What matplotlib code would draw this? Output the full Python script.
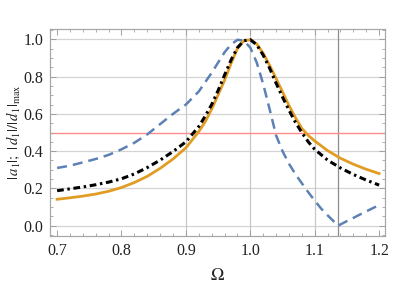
import matplotlib
matplotlib.use("Agg")
import matplotlib.pyplot as plt
from matplotlib.ticker import MultipleLocator

plt.rcParams['font.family'] = ['Liberation Serif', 'DejaVu Serif']
plt.rcParams['mathtext.fontset'] = 'stix'

# values
omega_a = [0.70, 0.72, 0.74, 0.76, 0.78, 0.80, 0.82, 0.84, 0.86, 0.88, 0.90,
           0.92, 0.93, 0.94, 0.95, 0.96, 0.97, 0.98, 0.99, 1.00, 1.01, 1.02,
           1.03, 1.04, 1.05, 1.06, 1.07, 1.08, 1.09, 1.10, 1.12, 1.14, 1.16,
           1.18, 1.20]
a1 = [0.142, 0.150, 0.159, 0.170, 0.185, 0.205, 0.232, 0.265, 0.308, 0.358,
      0.418, 0.505, 0.558, 0.625, 0.702, 0.780, 0.870, 0.950, 0.992, 0.998,
      0.975, 0.925, 0.860, 0.790, 0.718, 0.645, 0.580, 0.522, 0.484, 0.455,
      0.403, 0.362, 0.330, 0.303, 0.280]
d1_black = [0.188, 0.198, 0.208, 0.220, 0.234, 0.252, 0.278, 0.312, 0.352,
            0.398, 0.450, 0.532, 0.588, 0.650, 0.725, 0.808, 0.888, 0.955,
            0.992, 0.998, 0.970, 0.915, 0.845, 0.765, 0.690, 0.620, 0.555,
            0.500, 0.450, 0.410, 0.352, 0.310, 0.275, 0.245, 0.218]

omega_b = [0.70, 0.72, 0.74, 0.76, 0.78, 0.80, 0.82, 0.84, 0.86, 0.88, 0.90,
           0.92, 0.94, 0.95, 0.96, 0.97, 0.98, 0.99, 1.00, 1.01, 1.02, 1.03,
           1.04, 1.05, 1.06, 1.07, 1.08, 1.09, 1.10, 1.11, 1.12, 1.13, 1.136,
           1.15, 1.16, 1.17, 1.18, 1.19, 1.20]
d1_blue = [0.310, 0.322, 0.340, 0.358, 0.380, 0.410, 0.445, 0.490, 0.545,
           0.600, 0.650, 0.720, 0.820, 0.875, 0.930, 0.972, 0.997, 0.993,
           0.955, 0.875, 0.760, 0.625, 0.485, 0.400, 0.333, 0.277, 0.228,
           0.180, 0.135, 0.092, 0.056, 0.022, 0.0, 0.025, 0.042, 0.060,
           0.077, 0.094, 0.111]

half_level = 0.5
omega_zero = 1.136
grid_x = [0.9, 1.0, 1.1]
grid_y = [0.0, 0.2, 0.4, 0.6, 0.8, 1.0]

orange = '#e19c24'
blue = '#5e81b5'

fig = plt.figure(figsize=(4.15, 2.83), dpi=100)
ax = fig.add_axes([0.1205, 0.166, 0.807, 0.7315])

for g in grid_y:
    ax.axhline(g, color='#d4d4d4', lw=0.9, zorder=0)
for g in grid_x:
    ax.axvline(g, color='#c8c8c8', lw=0.9, zorder=0)
ax.axvline(omega_zero, color='#8c8c8c', lw=0.9, zorder=0)
ax.axhline(half_level, color='#ff8a8a', lw=1.0, zorder=1)

ax.plot(omega_b, d1_blue, color=blue, lw=1.8, dashes=(4.0, 2.4), zorder=3)
ax.plot(omega_a, d1_black, color='black', lw=2.2,
        dashes=(2.2, 1.2, 0.8, 1.2), zorder=4)
ax.plot(omega_a, a1, color=orange, lw=2.0, zorder=2)

ax.set_xlim(0.689, 1.209)
ax.set_ylim(-0.055, 1.055)
ax.xaxis.set_major_locator(MultipleLocator(0.1))
ax.xaxis.set_minor_locator(MultipleLocator(0.02))
ax.yaxis.set_major_locator(MultipleLocator(0.2))
ax.yaxis.set_minor_locator(MultipleLocator(0.05))
ax.xaxis.set_major_formatter(plt.FuncFormatter(lambda v, p: f"{v:.1f}"))
ax.yaxis.set_major_formatter(plt.FuncFormatter(lambda v, p: f"{v:.1f}"))

ax.tick_params(which='both', direction='in', top=True, right=True,
               color='#a0a0a0', labelsize=11.5, labelcolor='#222222')
ax.tick_params(which='major', length=4, width=0.7, pad=5)
ax.tick_params(which='minor', length=2.2, width=0.6)
for s in ax.spines.values():
    s.set_color('#a8a8a8')
    s.set_linewidth(0.9)

ax.set_xlabel(r'$\Omega$', fontsize=13, labelpad=6, color='#222222')
ax.set_ylabel(r'$|\,a_1|;\ |\,d_1|/|\,d_1|_{\rm max}$', fontsize=10.5,
              color='#222222')
ax.yaxis.set_label_coords(-0.083, 0.5)

fig.savefig('out.png', dpi=100)
